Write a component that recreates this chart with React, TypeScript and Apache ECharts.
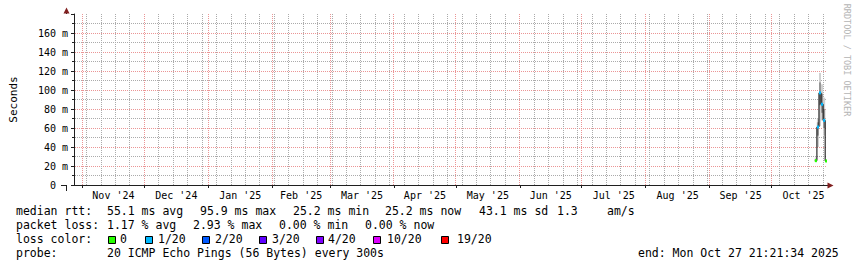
import React, { useEffect, useRef } from 'react';
import * as echarts from 'echarts';

// ---- time range & axis data ----
const rangeStart = '2024-10-27T21:21:34Z';
const rangeEnd = '2025-10-27T21:21:34Z';
const monthStarts = [
  '2024-11-01', '2024-12-01', '2025-01-01', '2025-02-01', '2025-03-01', '2025-04-01',
  '2025-05-01', '2025-06-01', '2025-07-01', '2025-08-01', '2025-09-01', '2025-10-01', '2025-11-01',
];
const monthLabels = [
  "Nov '24", "Dec '24", "Jan '25", "Feb '25", "Mar '25", "Apr '25",
  "May '25", "Jun '25", "Jul '25", "Aug '25", "Sep '25", "Oct '25",
];
const firstWeekLine = '2024-11-03';
const yMax = 180;
const yStep = 20;
const yMinorStep = 10;

// ---- series data (daily consolidated samples, ms) ----
const firstSampleStart = '2025-10-22T00:00:00Z';
const sampleEnds = [
  '2025-10-23T00:00:00Z', '2025-10-24T00:00:00Z', '2025-10-25T00:00:00Z',
  '2025-10-26T00:00:00Z', '2025-10-27T00:00:00Z', '2025-10-27T21:21:34Z',
];
const medianRtt = [25.6, 61, 97, 85, 68, 25.2];
const lossLevel = [0, 1, 1, 1, 1, 0];
const smokeMin = [24.5, 40, 62, 68, 52, 24.5];
const smokeMax = [29, 70, 118, 106, 92, 27];
const smokeLowQ = [25, 52, 84, 76, 60, 24.8];
const smokeHighQ = [27, 66, 108, 96, 80, 26];

// ---- legend ----
const lossColors = ['#26ff00', '#00b8ff', '#0059ff', '#5e00ff', '#7e00ff', '#dd00ff', '#ff0000'];
const lossLabels = ['0', '1/20', '2/20', '3/20', '4/20', '10/20', '19/20'];
const rttStats = ['55.1 ms avg', '95.9 ms max', '25.2 ms min', '25.2 ms now', '43.1 ms sd', '1.3', 'am/s'];
const lossStats = ['1.17 % avg', '2.93 % max', '0.00 % min', '0.00 % now'];
const probeText = '20 ICMP Echo Pings (56 Bytes) every 300s';
const endText = 'end: Mon Oct 27 21:21:34 2025';

const MONO = '"DejaVu Sans Mono", monospace';
const MINOR_GRID = '#ababab';
const MAJOR_GRID = '#eb9595';
const ARROW = '#801f1f';
const AXIS = '#1f1f1f';
const DASH = [1, 1];

export default function App() {
  const ref = useRef<HTMLDivElement>(null);
  useEffect(() => {
    document.body.style.margin = '0';
    const chart = echarts.init(ref.current!, null, { renderer: 'svg' });
    const t0 = Date.parse(rangeStart);
    const t1 = Date.parse(rangeEnd);
    const monthMs = monthStarts.map((d) => Date.parse(d + 'T00:00:00Z'));
    const midMonths = monthLabels.map((_, i) => (monthMs[i] + monthMs[i + 1]) / 2);
    const weekLines: number[] = [];
    for (let w = Date.parse(firstWeekLine + 'T00:00:00Z'); w < t1; w += 7 * 86400000) weekLines.push(w);
    const hLines: number[][] = [];
    for (let v = yMinorStep; v < yMax; v += yMinorStep) hLines.push([v, v % yStep === 0 ? 1 : 0]);
    const vLines = [
      ...weekLines.map((t) => [t, 0]),
      ...monthMs.filter((t) => t < t1).map((t) => [t, 1]),
    ];

    const ends = sampleEnds.map((s) => Date.parse(s));
    const starts = ends.map((_, i) => (i === 0 ? Date.parse(firstSampleStart) : ends[i - 1]));
    const smokeData = ends.map((e, i) => [starts[i], e, smokeMin[i], smokeMax[i], smokeLowQ[i], smokeHighQ[i]]);
    const lossData = ends.map((e, i) => [starts[i], e, medianRtt[i], lossLevel[i]]);
    const lineData = [[starts[0], medianRtt[0]], ...ends.map((e, i) => [e, medianRtt[i]])];

    const ts = (x: number, y: number, text: string) => ({
      type: 'text', x, y, silent: true,
      style: { text, fontFamily: MONO, fontSize: 11.5, fill: '#000', align: 'left', verticalAlign: 'middle', textAlign: 'left', textVerticalAlign: 'middle' },
    });

    const rttX = [107, 200, 293, 385, 479, 557, 607];
    const lossX = [107, 193, 279, 365];
    const boxX = [109, 146, 203, 260, 317, 374, 442];
    const boxLabelX = [120, 158, 215, 272, 328, 387, 457];
    const L1 = 211, L2 = 225, L3 = 239, L4 = 253;

    const graphics: any[] = [
      ts(16, L1, 'median rtt:'),
      ...rttStats.map((s, i) => ts(rttX[i], L1, s)),
      ts(16, L2, 'packet loss:'),
      ...lossStats.map((s, i) => ts(lossX[i], L2, s)),
      ts(16, L3, 'loss color:'),
      ...lossLabels.map((s, i) => ts(boxLabelX[i], L3, s)),
      ...lossColors.map((c, i) => ({
        type: 'rect', silent: true,
        shape: { x: boxX[i] - 0.5, y: L3 - 2.5, width: 7, height: 7 },
        style: { fill: c, stroke: '#000', lineWidth: 1 },
      })),
      ts(16, L4, 'probe:'),
      ts(107, L4, probeText),
      ts(638, L4, endText),
      {
        type: 'text', x: 847, y: 60, rotation: -Math.PI / 2, silent: true,
        style: { text: 'RRDTOOL / TOBI OETIKER', fontFamily: MONO, fontSize: 8.5, fill: '#b4b4b4', align: 'center', verticalAlign: 'middle', textAlign: 'center', textVerticalAlign: 'middle' },
      },
      { type: 'line', silent: true, z: 10, shape: { x1: 61, y1: 185.5, x2: 66, y2: 185.5 }, style: { stroke: AXIS, lineWidth: 1 } },
      { type: 'line', silent: true, z: 10, shape: { x1: 827, y1: 185.5, x2: 829, y2: 185.5 }, style: { stroke: AXIS, lineWidth: 1 } },
      { type: 'line', silent: true, z: 10, shape: { x1: 66.5, y1: 185, x2: 66.5, y2: 191 }, style: { stroke: AXIS, lineWidth: 1 } },
      { type: 'line', silent: true, z: 10, shape: { x1: 66.5, y1: 10, x2: 66.5, y2: 14 }, style: { stroke: AXIS, lineWidth: 1 } },
      { type: 'polygon', silent: true, z: 10, shape: { points: [[63.5, 13.5], [69.5, 13.5], [66.5, 7.5]] }, style: { fill: ARROW } },
      { type: 'polygon', silent: true, z: 10, shape: { points: [[827.5, 182.5], [827.5, 188.5], [833.5, 185.5]] }, style: { fill: ARROW } },
    ];

    const option: any = {
      animation: false,
      backgroundColor: '#ffffff',
      grid: { left: 66, top: 14, width: 761, height: 171, containLabel: false },
      xAxis: {
        type: 'value', min: t0, max: t1, position: 'bottom',
        axisLine: { show: true, onZero: false, lineStyle: { color: AXIS, width: 1 } },
        axisTick: { show: true, length: 3, customValues: monthMs.slice(0, 12), lineStyle: { color: AXIS } },
        axisLabel: {
          show: true, customValues: midMonths, margin: 5,
          fontFamily: MONO, fontSize: 10, color: '#000',
          formatter: (v: number) => {
            let best = 0;
            midMonths.forEach((m, i) => { if (Math.abs(m - v) < Math.abs(midMonths[best] - v)) best = i; });
            return monthLabels[best];
          },
        },
        splitLine: { show: false },
      },
      yAxis: {
        type: 'value', min: 0, max: yMax, interval: yStep,
        name: 'Seconds', nameLocation: 'middle', nameGap: 55,
        nameTextStyle: { fontFamily: MONO, fontSize: 11, color: '#000' },
        axisLine: { show: true, lineStyle: { color: AXIS, width: 1 } },
        axisTick: { show: true, length: 3, lineStyle: { color: AXIS } },
        minorTick: { show: true, splitNumber: 2, length: 2, lineStyle: { color: AXIS } },
        axisLabel: {
          showMaxLabel: false, margin: 6, fontFamily: MONO, fontSize: 10, color: '#000',
          formatter: (v: number) => (v === 0 ? '{z|0}' : `${v} m`),
          rich: { z: { fontFamily: MONO, fontSize: 10, color: '#000', padding: [0, 12, 0, 0] } },
        },
        splitLine: { show: false },
      },
      series: [
        {
          name: 'value grid', type: 'custom', z: 1, silent: true,
          data: hLines,
          renderItem: (params: any, api: any) => {
            const l = api.coord([t0, api.value(0)]);
            const r = api.coord([t1, api.value(0)]);
            const y = Math.round(l[1] - 0.5) + 0.5;
            return {
              type: 'line',
              shape: { x1: Math.round(l[0]) + 1, y1: y, x2: Math.round(r[0]), y2: y },
              style: { stroke: api.value(1) ? MAJOR_GRID : MINOR_GRID, lineWidth: 1, lineDash: DASH },
            };
          },
        },
        {
          name: 'time grid', type: 'custom', z: 1, silent: true,
          data: vLines,
          renderItem: (params: any, api: any) => {
            const top = api.coord([api.value(0), yMax]);
            const bot = api.coord([api.value(0), 0]);
            const x = Math.round(top[0] - 0.5) + 0.5;
            const major = api.value(1);
            return {
              type: 'line',
              shape: { x1: x, y1: Math.round(bot[1]), x2: x, y2: Math.round(top[1]) },
              style: { stroke: major ? MAJOR_GRID : MINOR_GRID, lineWidth: 1, lineDash: DASH },
            };
          },
        },
        {
          name: 'smoke', type: 'custom', z: 2, silent: true,
          data: smokeData,
          renderItem: (params: any, api: any) => {
            const a = api.coord([api.value(0), api.value(3)]);
            const b = api.coord([api.value(1), api.value(2)]);
            const c = api.coord([api.value(0), api.value(5)]);
            const d = api.coord([api.value(1), api.value(4)]);
            return {
              type: 'group',
              children: [
                { type: 'rect', shape: { x: a[0], y: a[1], width: b[0] - a[0], height: b[1] - a[1] }, style: { fill: '#d0d0d0' } },
                { type: 'rect', shape: { x: c[0], y: c[1], width: d[0] - c[0], height: d[1] - c[1] }, style: { fill: '#959595' } },
              ],
            };
          },
        },
        {
          name: 'median', type: 'line', z: 3, step: 'start',
          data: lineData, showSymbol: false, symbol: 'none', silent: true,
          lineStyle: { color: '#000', width: 1 },
        },
        {
          name: 'loss', type: 'custom', z: 4, silent: true,
          data: lossData,
          renderItem: (params: any, api: any) => {
            const a = api.coord([api.value(0), api.value(2)]);
            const b = api.coord([api.value(1), api.value(2)]);
            return {
              type: 'rect',
              shape: { x: a[0], y: a[1] - 1.5, width: Math.max(b[0] - a[0], 1.5), height: 3 },
              style: { fill: lossColors[api.value(3)] },
            };
          },
        },
      ],
      graphic: graphics,
    };
    chart.setOption(option);
    return () => chart.dispose();
  }, []);
  return <div ref={ref} style={{ width: 857, height: 267 }} />;
}
